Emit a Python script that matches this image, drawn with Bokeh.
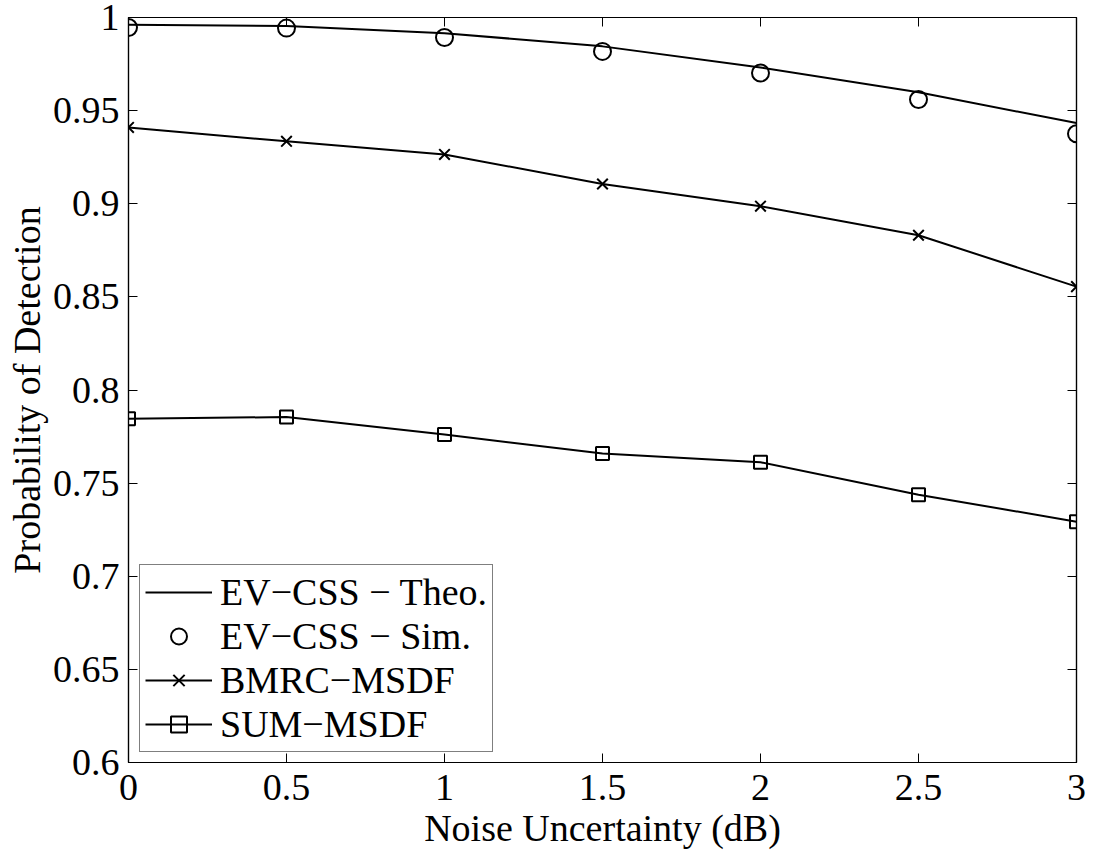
from bokeh.plotting import figure
from bokeh.models import (LinearAxis, FixedTicker, Legend, LegendItem, Range1d)
from bokeh.embed import file_html
from bokeh.resources import INLINE

# ---- data ----
noise_db = [0, 0.5, 1, 1.5, 2, 2.5, 3]
ev_theo = [0.9961, 0.9954, 0.9916, 0.9845, 0.9732, 0.9599, 0.9433]
ev_sim = [0.9946, 0.9943, 0.9893, 0.9818, 0.9702, 0.9560, 0.9376]
bmrc = [0.9410, 0.9335, 0.9265, 0.9106, 0.8987, 0.8831, 0.8555]
sum_msdf = [0.7845, 0.7855, 0.7761, 0.7659, 0.7612, 0.7438, 0.7293]

x_ticks = [0, 0.5, 1, 1.5, 2, 2.5, 3]
x_tick_labels = ["0", "0.5", "1", "1.5", "2", "2.5", "3"]
y_ticks = [0.6, 0.65, 0.7, 0.75, 0.8, 0.85, 0.9, 0.95, 1.0]
y_tick_labels = ["0.6", "0.65", "0.7", "0.75", "0.8", "0.85", "0.9", "0.95", "1"]

labels = ["EV\u2212CSS \u2212 Theo.", "EV\u2212CSS \u2212 Sim.", "BMRC\u2212MSDF", "SUM\u2212MSDF"]

FONT = "Liberation Serif"
FS = "38px"

p = figure(width=1097, height=851, output_backend="svg", toolbar_location=None,
           x_range=Range1d(0, 3), y_range=Range1d(0.6, 1.0),
           x_axis_location=None, y_axis_location=None,
           min_border_left=128, min_border_right=21, min_border_top=17, min_border_bottom=87)
p.grid.visible = False
p.outline_line_color = "black"
p.outline_line_width = 1.2
p.background_fill_color = "white"
p.border_fill_color = "white"

def style_axis(ax):
    ax.axis_line_color = "black"
    ax.axis_line_width = 1.2
    ax.major_tick_in = 9
    ax.major_tick_out = 0
    ax.major_tick_line_color = "black"
    ax.minor_tick_line_color = None
    ax.major_label_text_font = FONT
    ax.major_label_text_font_size = FS
    ax.major_label_text_color = "black"
    ax.axis_label_text_font = FONT
    ax.axis_label_text_font_size = FS
    ax.axis_label_text_font_style = "normal"
    ax.axis_label_text_color = "black"

xb = LinearAxis(ticker=FixedTicker(ticks=x_ticks), axis_label="Noise Uncertainty (dB)")
xb.major_label_overrides = {t: l for t, l in zip(x_ticks, x_tick_labels)}
style_axis(xb)
xb.major_label_standoff = 12
xb.axis_label_standoff = 4
p.add_layout(xb, "below")

yl = LinearAxis(ticker=FixedTicker(ticks=y_ticks), axis_label="Probability of Detection")
yl.major_label_overrides = {t: l for t, l in zip(y_ticks, y_tick_labels)}
style_axis(yl)
yl.major_label_standoff = 9
yl.axis_label_standoff = 2
p.add_layout(yl, "left")

xt = LinearAxis(ticker=FixedTicker(ticks=x_ticks))
style_axis(xt)
xt.major_label_overrides = {t: "" for t in x_ticks}
xt.major_label_standoff = 0
p.add_layout(xt, "above")

yr = LinearAxis(ticker=FixedTicker(ticks=y_ticks))
style_axis(yr)
yr.major_label_overrides = {t: "" for t in y_ticks}
yr.major_label_standoff = 0
p.add_layout(yr, "right")

LW = 2
r_theo = p.line(noise_db, ev_theo, line_color="black", line_width=LW)
r_sim = p.scatter(noise_db, ev_sim, marker="circle", size=17, fill_color=None,
                  line_color="black", line_width=LW)
r_bl = p.line(noise_db, bmrc, line_color="black", line_width=LW)
r_bm = p.scatter(noise_db, bmrc, marker="x", size=15, line_color="black", line_width=LW)
r_sl = p.line(noise_db, sum_msdf, line_color="black", line_width=LW)
r_sm = p.scatter(noise_db, sum_msdf, marker="square", size=13, fill_color=None,
                 line_color="black", line_width=LW)

legend = Legend(items=[
    LegendItem(label=labels[0], renderers=[r_theo]),
    LegendItem(label=labels[1], renderers=[r_sim]),
    LegendItem(label=labels[2], renderers=[r_bl, r_bm]),
    LegendItem(label=labels[3], renderers=[r_sl, r_sm]),
], location=(11, 10))
legend.label_text_font = FONT
legend.label_text_font_size = FS
legend.label_text_color = "black"
legend.glyph_width = 67
legend.glyph_height = 40
legend.label_height = 40
legend.label_standoff = 8
legend.spacing = 0
legend.padding = 5
legend.margin = 0
legend.border_line_color = "black"
legend.border_line_width = 1.2
legend.background_fill_alpha = 1.0
p.add_layout(legend, "center")

open("out.html", "w").write(file_html(p, INLINE))
